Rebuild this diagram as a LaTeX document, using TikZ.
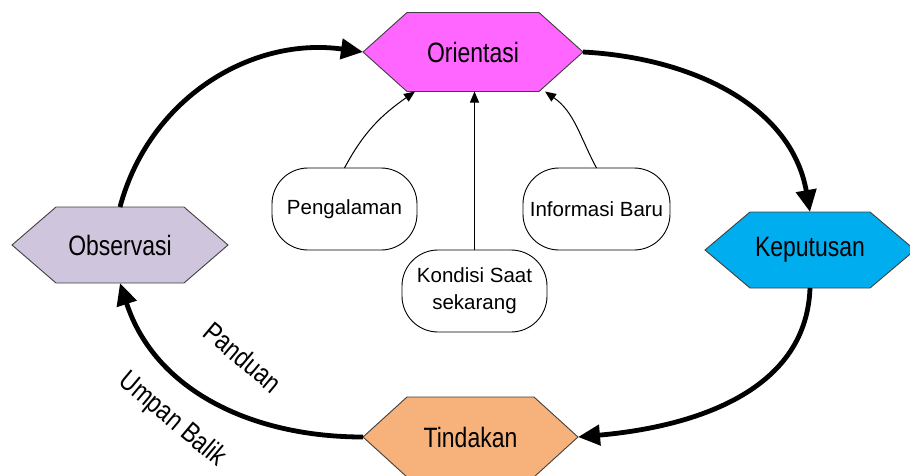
\documentclass[tikz,border=0pt]{standalone}
\usepackage{fontspec}
\setmainfont{Liberation Sans}
\newfontfamily\narrowsans[FakeStretch=0.82]{Liberation Sans}
\usetikzlibrary{arrows.meta,backgrounds,calc}

\definecolor{oricol}{HTML}{FF66FF}
\definecolor{obscol}{HTML}{CFC6DE}
\definecolor{kepcol}{HTML}{00AEEF}
\definecolor{tincol}{HTML}{F7B27B}

% hexagon outline around a node: #1 node name, #2 point depth, #3 fill colour
\newcommand\hexoutline[3]{%
  \filldraw[hexedge, fill=#3] (#1.west) -- ([xshift=#2]#1.north west)
    -- ([xshift=-#2]#1.north east) -- (#1.east)
    -- ([xshift=-#2]#1.south east) -- ([xshift=#2]#1.south west) -- cycle;}

\begin{document}
\begin{tikzpicture}[x=1pt,y=-1pt,
  hexlabel/.style={inner sep=0pt, outer sep=0pt,
    font=\narrowsans\fontsize{28}{32}\selectfont, text=black},
  hexedge/.style={draw=black!75, line width=0.9pt},
  factor/.style={draw=black, line width=0.9pt, rounded corners=36pt,
    inner sep=0pt, outer sep=0pt, minimum width=145pt, minimum height=82pt,
    align=center, font=\fontsize{20.5}{27}\selectfont},
  looparrow/.style={line width=4.8pt, -{Triangle[length=22pt,width=20pt]}},
  feedarrow/.style={line width=1pt, -{Triangle[length=11pt,width=9pt]}},
  sidelabel/.style={font=\narrowsans\fontsize{28}{32}\selectfont,
    rotate=-40, inner sep=0pt}]

\useasboundingbox (0,0) rectangle (910,475);

% the four stages of the loop
\node[hexlabel, minimum width=220pt, minimum height=79pt] (ori) at (473,52) {Orientasi};
\node[hexlabel, minimum width=216pt, minimum height=76pt] (obs) at (120,245) {Observasi};
\node[hexlabel, minimum width=210pt, minimum height=76pt] (kep) at (810,250) {Keputusan};
\node[hexlabel, minimum width=215pt, minimum height=80pt] (tin) at (470.5,437) {Tindakan};

\begin{scope}[on background layer]
  \hexoutline{ori}{44pt}{oricol}
  \hexoutline{obs}{44pt}{obscol}
  \hexoutline{kep}{45pt}{kepcol}
  \hexoutline{tin}{44pt}{tincol}
\end{scope}

% inputs feeding the orientation
\node[factor] (peng) at (344.5,209) {Pengalaman};
\node[factor, minimum width=147pt] (info) at (596.5,209) {Informasi Baru};
\node[factor] (kond) at (474.5,291) {Kondisi Saat\\sekarang};

\draw[feedarrow] (peng.north) to[out=62, in=215] ([xshift=52pt]ori.south west);
\draw[feedarrow] (kond.north) -- (kond.north |- ori.south);
\draw[feedarrow] (info.north) to[out=118, in=-35] ([xshift=-38pt]ori.south east);

% main loop
\draw[looparrow] (obs.north) to[out=75, in=172] (ori.west);
\draw[looparrow] (ori.east) to[out=-3, in=100] (kep.north);
\draw[looparrow] (kep.south) to[out=-92, in=5] (tin.east);
\draw[looparrow] (tin.west) to[out=180, in=-72] (obs.south);

\node[sidelabel] (pand) at (243,357) {Panduan};
\node[sidelabel] (umpan) at (172,420) {Umpan Balik};
\end{tikzpicture}
\end{document}
